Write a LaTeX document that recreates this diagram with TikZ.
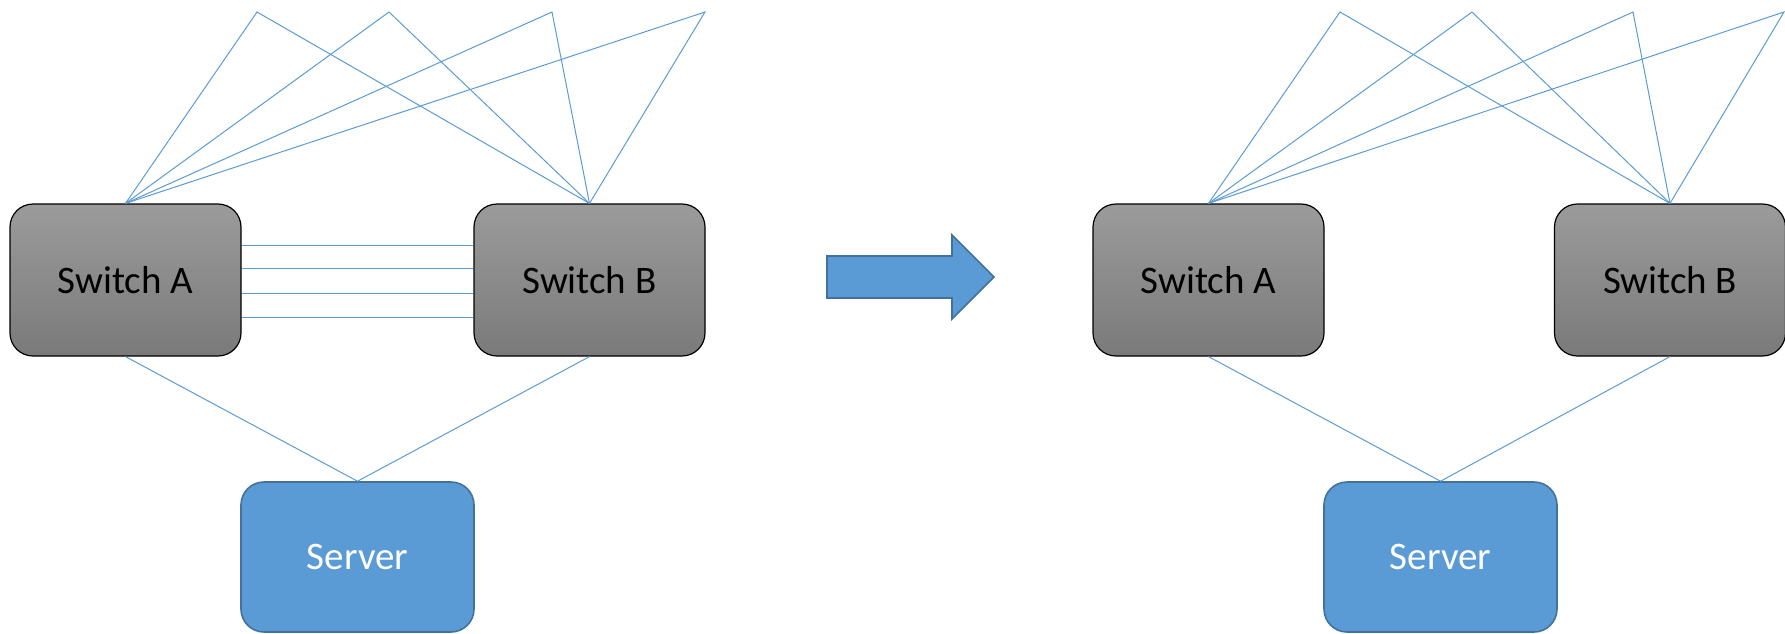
\documentclass[tikz,border=0pt]{standalone}
\usepackage{fontspec}
\setmainfont{Carlito}
\definecolor{linkblue}{HTML}{5B9BD5}
\definecolor{edgeblue}{HTML}{41719C}
\definecolor{grayTop}{HTML}{9B9B9B}
\definecolor{grayBot}{HTML}{7A7A7A}
\begin{document}
\begin{tikzpicture}[x=0.5pt, y=-0.5pt,
  every node/.style = {shape=rectangle, rounded corners=11.5pt,
    align=center, font=\fontsize{19.5}{23}\selectfont},
  switch/.style = {draw=black, line width=0.6pt,
    top color=grayTop, bottom color=grayBot,
    minimum width=115.5pt, minimum height=76pt},
  server/.style = {draw=edgeblue, line width=0.8pt, fill=linkblue,
    text=white, minimum width=116.5pt, minimum height=75pt},
  link/.style = {draw=linkblue, line width=0.5pt}]
\useasboundingbox (0,0) rectangle (1785,633);
% before
\node[switch] (a1) at (125.5,280) {Switch A};
\node[switch] (b1) at (589.5,280) {Switch B};
\node[server] (s1) at (357.5,557) {Server};
\coordinate (p1) at (257,12);
\coordinate (p2) at (389,12);
\coordinate (p3) at (552,12);
\coordinate (p4) at (705,12);
\foreach \p in {p1,p2,p3,p4}{
  \draw[link] (a1.north) -- (\p) -- (b1.north);
}
\foreach \d in {17.5,5.75,-6.5,-18.5}{
  \draw[link] ([yshift=\d pt]a1.east) -- ([yshift=\d pt]b1.west);
}
\draw[link] (a1.south) -- (s1.north) -- (b1.south);
% arrow
\draw[draw=edgeblue, line width=0.8pt, fill=linkblue]
  (827,256) -- (952,256) -- (952,235) -- (994,277)
  -- (952,319) -- (952,298) -- (827,298) -- cycle;
% after
\node[switch] (a2) at (1208.5,280) {Switch A};
\node[switch] (b2) at (1670,280) {Switch B};
\node[server] (s2) at (1440.5,557) {Server};
\coordinate (q1) at (1340,12);
\coordinate (q2) at (1472,12);
\coordinate (q3) at (1633,12);
\coordinate (q4) at (1784,12);
\foreach \q in {q1,q2,q3,q4}{
  \draw[link] (a2.north) -- (\q) -- (b2.north);
}
\draw[link] (a2.south) -- (s2.north) -- (b2.south);
\end{tikzpicture}
\end{document}
